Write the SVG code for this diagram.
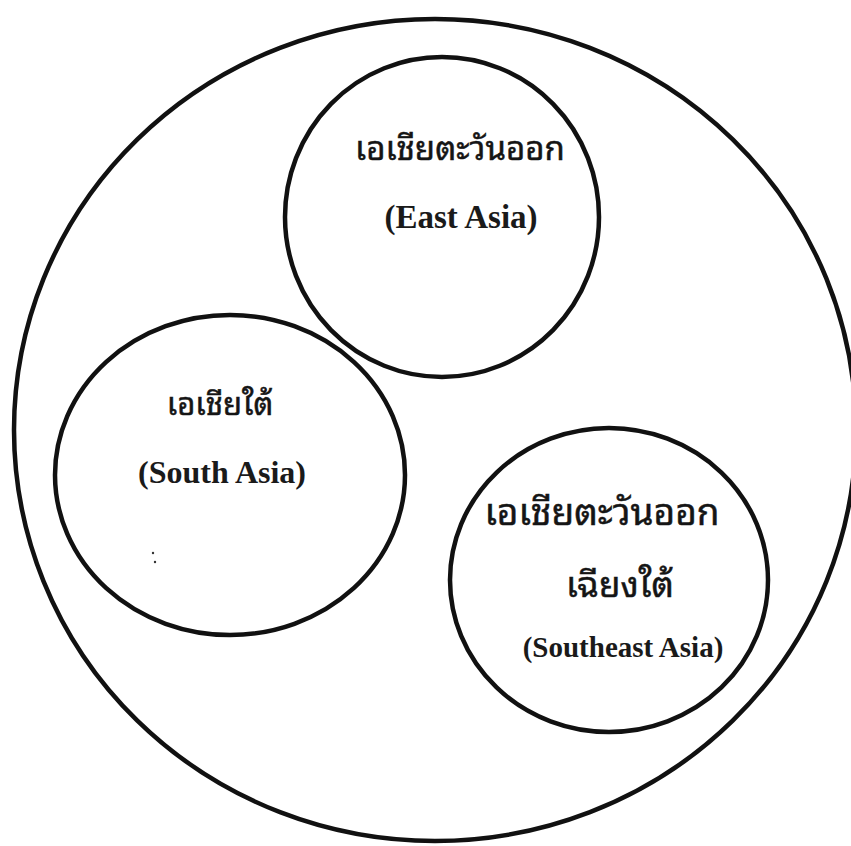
<svg xmlns="http://www.w3.org/2000/svg" width="851" height="846" viewBox="0 0 851 846">
<style>
.ring{fill:none;stroke:#111;stroke-width:4.5}
.th{font-family:"Noto Sans Thai Looped","Noto Serif Thai","Loma","Garuda","Tlwg Typo","Noto Sans Thai",sans-serif;font-size:33px;fill:#151515;stroke:#151515;stroke-width:0.5;text-anchor:middle}
.en{font-family:"Liberation Serif","Times New Roman",serif;font-weight:bold;font-size:32px;fill:#1a1a1a;text-anchor:middle}
</style>
<rect width="851" height="846" fill="#fff"/>
<g id="asia">
<ellipse class="ring" cx="435" cy="430" rx="421" ry="411"/>
</g>
<g id="east-asia">
<ellipse class="ring" cx="442" cy="217" rx="157" ry="160"/>
<text class="th" x="460" y="160">เอเชียตะวันออก</text>
<text class="en" x="461" y="228" style="font-size:33px">(East Asia)</text>
</g>
<g id="south-asia">
<ellipse class="ring" cx="230" cy="475" rx="175" ry="160"/>
<text class="th" x="220" y="415" style="font-size:31px">เอเชียใต้</text>
<text class="en" x="222" y="483">(South Asia)</text>
<circle cx="153" cy="553" r="1.2" fill="#333"/>
<circle cx="155" cy="562" r="1.2" fill="#333"/>
</g>
<g id="southeast-asia">
<ellipse class="ring" cx="609" cy="580" rx="159" ry="152"/>
<text class="th" x="602" y="525" style="font-size:37px">เอเชียตะวันออก</text>
<text class="th" x="620" y="597" style="font-size:35px">เฉียงใต้</text>
<text class="en" x="623" y="657" style="font-size:29px">(Southeast Asia)</text>
</g>
<g id="connectors"/>
</svg>
